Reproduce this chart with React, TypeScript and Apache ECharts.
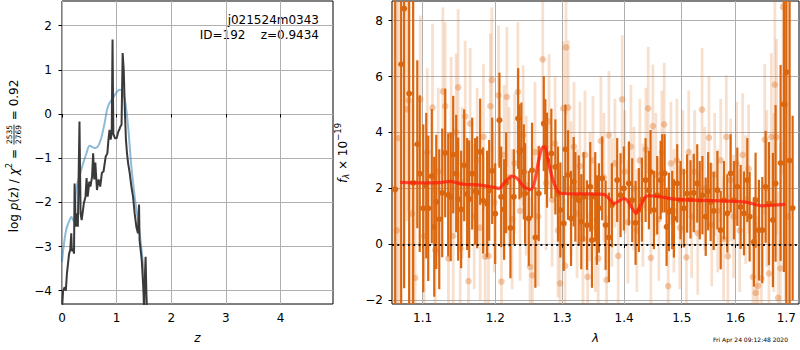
import React, { useEffect, useRef } from 'react';
import * as echarts from 'echarts';

// ---------- tick values ----------
const zTicks = [0, 1, 2, 3, 4];
const pzTicks = [-4, -3, -2, -1, 0, 1, 2];
const lamTicks = [1.1, 1.2, 1.3, 1.4, 1.5, 1.6, 1.7];
const fluxTicks = [-2, 0, 2, 4, 6, 8];

// ---------- left panel: log p(z) (black) ----------
const pzCurve = [
  [0.005, -4.32], [0.02, -4.0], [0.05, -3.92], [0.07, -4.0], [0.09, -3.61], [0.13, -3.16],
  [0.15, -3.08], [0.17, -2.7], [0.18, -3.1], [0.2, -3.05], [0.22, -3.16], [0.23, -1.57],
  [0.25, -2.55], [0.27, -2.25], [0.29, -2.55], [0.32, -0.17], [0.34, -2.25], [0.36, -2.4],
  [0.4, -2.02], [0.43, -1.87], [0.45, -1.45], [0.47, -1.87], [0.5, -1.53], [0.52, -1.64],
  [0.55, -1.42], [0.57, -0.89], [0.59, -1.48], [0.61, -1.1], [0.64, -1.72], [0.67, -1.48],
  [0.7, -1.64], [0.73, -1.33], [0.76, -1.3], [0.8, -0.96], [0.83, -0.89], [0.85, -0.58],
  [0.87, -0.36], [0.89, -0.58], [0.91, -0.43], [0.925, 1.69], [0.94, -0.45], [0.97, -0.55],
  [1.0, -0.55], [1.03, -0.4], [1.05, -0.35], [1.07, -0.28], [1.09, -0.24], [1.11, 1.38],
  [1.13, 1.0], [1.15, 0.1], [1.17, -0.58], [1.19, -0.89], [1.21, -1.11], [1.24, -1.34],
  [1.27, -1.64], [1.3, -1.87], [1.33, -2.25], [1.36, -2.55], [1.39, -2.7], [1.41, -2.05],
  [1.42, -2.86], [1.46, -3.31], [1.49, -3.99], [1.5, -4.35], [1.53, -3.23], [1.55, -4.35]
];

// ---------- left panel: chi2 curve (blue) ----------
const chiCurve = [
  [0.0, -3.35], [0.03, -3.0], [0.08, -2.6], [0.14, -2.4], [0.17, -2.33], [0.22, -2.44],
  [0.26, -1.72], [0.35, -1.27], [0.45, -0.88], [0.51, -0.72], [0.6, -0.77], [0.69, -0.65],
  [0.78, -0.2], [0.84, 0.17], [0.93, 0.36], [1.06, 0.55], [1.12, 0.48], [1.17, 0.17],
  [1.21, -0.28], [1.27, -1.19], [1.33, -1.87], [1.39, -2.4], [1.45, -3.0], [1.51, -3.76],
  [1.56, -4.36]
];

// ---------- right panel: spectrum, [lambda, flux, err] ----------
const darkPoints = [
  [1.0646, 1.97, 10], [1.0722, 6.44, 10], [1.076, 8.43, 10], [1.0825, 5.39, 9], [1.0877, 2.2, 9],
  [1.0931, 3.58, 3.0], [1.0963, 2.53, 2.8], [1.1009, 1.29, 3.0], [1.1049, 2.1, 2.6], [1.1075, 1.29, 2.6],
  [1.1122, 2.44, 2.4], [1.1155, 0.63, 2.5], [1.1182, 1.52, 2.4], [1.1222, 0.9, 2.5], [1.1262, 1.84, 2.3],
  [1.1302, 3.27, 2.3], [1.1343, 1.77, 2.2], [1.1377, 1.7, 2.3], [1.1411, 3.21, 2.1], [1.1452, 2.53, 2.1],
  [1.1479, 1.62, 2.2], [1.152, 1.25, 2.1], [1.1562, 2.83, 2.0], [1.1603, 1.8, 2.0], [1.1631, 1.62, 2.1],
  [1.1673, 2.53, 2.0], [1.1715, 1.9, 1.9], [1.1743, 1.86, 2.0], [1.1785, 3.31, 1.9], [1.1827, 1.57, 1.9],
  [1.1884, 1.45, 1.9], [1.1913, 1.93, 1.8], [1.1956, 2.63, 1.9], [1.1999, 1.1, 1.8], [1.206, 4.44, 1.7],
  [1.2085, 1.7, 1.8], [1.2128, 1.25, 1.8], [1.2157, 2.2, 1.8], [1.222, 0.59, 1.8], [1.227, 1.7, 1.7],
  [1.2333, 4.5, 1.8], [1.2352, 3.31, 1.7], [1.2381, 3.37, 1.7], [1.2417, 2.59, 1.7], [1.2436, 1.82, 1.8],
  [1.2491, 0.93, 1.7], [1.254, 2.65, 1.7], [1.259, 0.25, 1.8], [1.2641, 1.82, 1.7], [1.2717, 4.32, 1.7],
  [1.2741, 3.49, 1.7], [1.2767, 3.01, 1.7], [1.2833, 3.25, 1.6], [1.2895, 2.77, 1.7], [1.2936, 1.8, 1.7],
  [1.2972, 1.23, 1.7], [1.3025, 0.75, 1.7], [1.305, 3.4, 1.6], [1.3092, 2.48, 1.6], [1.3139, 0.93, 1.7],
  [1.3181, 2.24, 1.6], [1.3207, 1.7, 1.6], [1.3261, 1.58, 1.6], [1.3301, 0.81, 1.7], [1.3339, 1.7, 1.6],
  [1.3392, 0.69, 1.6], [1.3445, 2.06, 1.6], [1.3472, 0.15, 1.7], [1.3525, 1.7, 1.6], [1.3552, 0.87, 1.6],
  [1.3585, 1.3, 1.6], [1.3638, 2.36, 1.5], [1.3694, 0.69, 1.6], [1.3748, 0.25, 1.6], [1.3797, 1.4, 1.5],
  [1.3885, 2.3, 1.5], [1.3941, 1.76, 1.5], [1.3996, 2.0, 1.5], [1.4081, 2.18, 1.5], [1.4137, 1.58, 1.5],
  [1.4194, 0.77, 1.5], [1.425, 1.23, 1.5], [1.4302, 1.6, 1.5], [1.4365, 2.3, 1.5], [1.4422, 1.94, 1.4],
  [1.4451, 2.59, 1.5], [1.4509, 1.23, 1.4], [1.4566, 1.76, 1.4], [1.4626, 2.3, 1.4], [1.4654, 2.54, 1.4],
  [1.4696, 2.54, 1.4], [1.4731, 0.63, 1.4], [1.4771, 1.16, 1.4], [1.483, 1.23, 1.4], [1.486, 0.93, 1.4],
  [1.4919, 2.18, 1.4], [1.4978, 1.58, 1.4], [1.5038, 1.29, 1.4], [1.5097, 1.82, 1.4], [1.5158, 1.61, 1.4],
  [1.5218, 1.84, 1.4], [1.5281, 2.18, 1.4], [1.5327, 1.58, 1.4], [1.5376, 1.76, 1.4], [1.5437, 0.99, 1.4],
  [1.5482, 1.9, 1.4], [1.5529, 1.52, 1.4], [1.5585, 1.2, 1.4], [1.5654, 1.94, 1.4], [1.5716, 0.51, 1.4],
  [1.5777, 1.58, 1.4], [1.5841, 1.11, 1.4], [1.5904, 2.54, 1.4], [1.5967, 1.58, 1.4], [1.6032, 2.06, 1.4],
  [1.6096, 1.34, 1.5], [1.616, 1.11, 1.5], [1.6225, 2.3, 1.5], [1.627, 0.99, 1.6], [1.6353, 0.09, 1.6],
  [1.6386, 1.58, 1.7], [1.6451, 0.51, 1.8], [1.6518, 0.51, 1.9], [1.6584, 2.06, 2.0], [1.665, 1.46, 2.2],
  [1.6729, 0.87, 2.4], [1.6783, 2.18, 2.8], [1.6884, 2.91, 3.5], [1.6951, 5.01, 6], [1.6999, 6.16, 10],
  [1.7067, 3.0, 10], [1.7129, 1.3, 3.3]
];

const lightPoints = [
  [1.0625, 1.97, 10], [1.0665, 0.5, 10], [1.0691, 3.8, 6], [1.0797, 4.83, 4], [1.0819, 5.15, 4],
  [1.0862, 1.1, 4], [1.0902, -1.2, 3.5], [1.097, 5.18, 3], [1.1022, 0.3, 3], [1.1062, 3.3, 3],
  [1.1132, 4.89, 3], [1.1168, -0.2, 3], [1.1208, 2.6, 3], [1.1271, 5.47, 3], [1.1302, 4.94, 3],
  [1.1346, -0.5, 2.8], [1.1383, 3.9, 2.8], [1.1411, 0.3, 2.8], [1.1452, 4.02, 2.8], [1.1479, 5.61, 2.8],
  [1.1507, -0.14, 2.7], [1.1534, 2.2, 2.7], [1.1576, 4.58, 2.7], [1.1622, -1.31, 2.7], [1.1645, 4.32, 2.7],
  [1.1701, 1.0, 2.6], [1.1743, 3.0, 2.6], [1.1785, 0.6, 2.6], [1.1832, 3.84, 2.6], [1.1856, -0.44, 2.6],
  [1.1903, -0.42, 2.6], [1.193, 4.94, 2.6], [1.1951, 5.87, 2.6], [1.1985, 1.5, 2.5], [1.2046, 5.33, 2.5],
  [1.2089, -1.33, 2.5], [1.2128, 3.2, 2.5], [1.2167, 5.27, 2.5], [1.2201, 2.4, 2.5], [1.2245, 0.9, 2.5],
  [1.2282, 2.9, 2.5], [1.2329, 5.45, 2.5], [1.2362, 1.2, 2.5], [1.2407, 3.9, 2.5], [1.2452, 2.1, 2.5],
  [1.251, -0.8, 2.5], [1.2545, -1.11, 2.5], [1.2585, 3.3, 2.5], [1.2631, 1.0, 2.5], [1.2702, 6.61, 2.4],
  [1.2752, 2.2, 2.4], [1.2798, 4.4, 2.4], [1.2844, 1.6, 2.4], [1.289, 3.6, 2.4], [1.2936, 0.5, 2.4],
  [1.2967, -1.39, 2.4], [1.3018, 4.86, 2.4], [1.3045, -0.77, 2.4], [1.306, 7.04, 2.4], [1.3096, 4.89, 2.4],
  [1.3139, 2.0, 2.4], [1.3186, 3.5, 2.3], [1.3234, 1.1, 2.3], [1.328, 2.8, 2.3], [1.3328, 0.2, 2.3],
  [1.336, 3.2, 2.3], [1.3403, -1.16, 2.3], [1.344, 1.7, 2.3], [1.3488, 3.0, 2.3], [1.3528, 0.6, 2.3],
  [1.3573, -0.5, 2.3], [1.3617, 3.7, 2.3], [1.3666, 2.4, 2.3], [1.371, -1.27, 2.3], [1.3748, 3.9, 2.3],
  [1.3797, 1.5, 2.3], [1.3847, 2.9, 2.3], [1.3902, -0.41, 2.3], [1.3968, 5.18, 2.3], [1.4013, 2.6, 2.2],
  [1.4064, 0.8, 2.2], [1.4115, 3.5, 2.2], [1.4166, 2.0, 2.2], [1.4216, 0.5, 2.2], [1.4267, 3.0, 2.2],
  [1.4319, 1.4, 2.2], [1.437, 3.4, 2.2], [1.441, 4.86, 2.2], [1.4456, -0.48, 2.2], [1.4491, 4.23, 2.2],
  [1.4543, 2.5, 2.2], [1.4595, 0.9, 2.2], [1.4648, 3.3, 2.2], [1.4689, 4.29, 2.2], [1.4759, -1.49, 2.2],
  [1.4807, 2.9, 2.2], [1.486, 1.2, 2.2], [1.4913, 3.0, 2.2], [1.4965, 0.6, 2.2], [1.5019, 2.6, 2.2],
  [1.5085, -0.46, 2.2], [1.5126, 3.3, 2.2], [1.5179, 1.0, 2.2], [1.5234, 2.6, 2.2], [1.529, 0.4, 2.2],
  [1.5369, 4.82, 2.2], [1.5418, 2.0, 2.2], [1.5497, 3.82, 2.2], [1.5548, 0.7, 2.2], [1.5604, 2.5, 2.2],
  [1.566, 1.2, 2.2], [1.5716, 3.0, 2.2], [1.5771, 0.2, 2.2], [1.5822, 3.84, 2.2], [1.5852, -0.42, 2.2],
  [1.5904, 2.3, 2.2], [1.5961, 1.0, 2.2], [1.6019, 2.9, 2.2], [1.6077, 0.5, 2.2], [1.6135, 3.2, 2.2],
  [1.6193, 1.6, 2.3], [1.6251, 2.7, 2.3], [1.6335, -1.16, 2.4], [1.6388, -1.73, 2.5], [1.6432, -1.48, 2.5],
  [1.65, -1.21, 2.6], [1.6566, 3.75, 2.7], [1.6606, 2.0, 2.8], [1.665, -1.04, 3.0], [1.6698, 3.84, 3.0],
  [1.6748, 1.5, 3.2], [1.6768, 5.71, 3.4], [1.6802, 3.84, 3.5], [1.6834, -1.91, 3.8], [1.6881, -0.86, 4.5],
  [1.6932, 8.49, 6], [1.6976, 5.0, 7], [1.7025, 1.0, 10]
];

const modelCurve = [
  [1.0711, 2.22], [1.1013, 2.2], [1.1235, 2.21], [1.137, 2.25], [1.1461, 2.2], [1.1552, 2.15],
  [1.1785, 2.12], [1.1999, 2.03], [1.2051, 2.0], [1.2145, 2.24], [1.2243, 2.44], [1.2318, 2.36],
  [1.2417, 2.06], [1.2515, 1.96], [1.2566, 2.12], [1.2641, 3.01], [1.2691, 3.45], [1.2733, 3.49],
  [1.2783, 3.01], [1.2844, 2.41], [1.2921, 1.94], [1.2998, 1.82], [1.3549, 1.8], [1.3666, 1.79],
  [1.3748, 1.64], [1.383, 1.46], [1.3913, 1.55], [1.3996, 1.64], [1.4052, 1.58], [1.4137, 1.29],
  [1.4204, 1.11], [1.4279, 1.4], [1.4365, 1.7], [1.4422, 1.74], [1.4626, 1.7], [1.486, 1.62],
  [1.5218, 1.58], [1.5871, 1.55], [1.6193, 1.51], [1.6518, 1.38], [1.6718, 1.4], [1.6982, 1.43]
];

const zeroLevel = 0;
const objName = 'j021524m0343';
const objInfo = 'ID=192    z=0.9434';
const stamp = 'Fri Apr 24 09:12:48 2020';

const FONT = 'DejaVu Sans';
const ORANGE = '#da670f';

function minusFmt(v: number) {
  return v < 0 ? '\u2212' + Math.abs(v) : String(v);
}

function measure(text: string, size: number, italic = false) {
  const c = document.createElement('canvas').getContext('2d')!;
  c.font = `${italic ? 'italic ' : ''}${size}px "${FONT}"`;
  return c.measureText(text).width;
}

type Seg = { t?: string; s?: number; it?: boolean; dy?: number; frac?: [string, string] };

function buildRotatedLabel(segs: Seg[], cx: number, cy: number) {
  const children: any[] = [];
  let x = 0;
  for (const sg of segs) {
    if (sg.frac) {
      const fs = 7.5;
      const w = Math.max(measure(sg.frac[0], fs), measure(sg.frac[1], fs)) + 2;
      children.push({ type: 'text', x: x + w / 2, y: -4.2, style: { text: sg.frac[0], fontSize: fs, fontFamily: FONT, fill: '#000', align: 'center', verticalAlign: 'middle' } });
      children.push({ type: 'text', x: x + w / 2, y: 4.4, style: { text: sg.frac[1], fontSize: fs, fontFamily: FONT, fill: '#000', align: 'center', verticalAlign: 'middle' } });
      children.push({ type: 'line', shape: { x1: x + 0.5, y1: 0, x2: x + w - 0.5, y2: 0 }, style: { stroke: '#000', lineWidth: 0.8 } });
      x += w;
    } else {
      const s = sg.s || 12;
      children.push({ type: 'text', x, y: sg.dy || 0, style: { text: sg.t, fontSize: s, fontFamily: FONT, fontStyle: sg.it ? 'italic' : 'normal', fill: '#000', align: 'left', verticalAlign: 'middle' } });
      x += measure(sg.t!, s, !!sg.it);
    }
  }
  return { type: 'group', x: cx, y: cy + x / 2, rotation: Math.PI / 2, children };
}

export default function App() {
  const ref = useRef<HTMLDivElement>(null);
  useEffect(() => {
    if (!ref.current) return;
    const chart = echarts.init(ref.current, undefined, { renderer: 'svg' });

    const errRender = (barColor: string, dotColor: string, bw: number, r: number) =>
      (params: any, api: any) => {
        const x = api.value(0), y = api.value(1), e = api.value(2);
        const top = api.coord([x, y + e]);
        const bot = api.coord([x, y - e]);
        const c = api.coord([x, y]);
        return {
          type: 'group',
          children: [
            { type: 'line', shape: { x1: top[0], y1: top[1], x2: bot[0], y2: bot[1] }, style: { stroke: barColor, lineWidth: bw } },
            { type: 'circle', shape: { cx: c[0], cy: c[1], r }, style: { fill: dotColor } }
          ]
        };
      };

    const axisCommon = {
      axisLine: { show: false },
      axisTick: { show: true, length: 3.5, lineStyle: { color: '#000', width: 1 } },
      splitLine: { show: true, lineStyle: { color: '#b0b0b0', width: 1 } },
      nameTextStyle: { color: '#000', fontSize: 12, fontFamily: FONT }
    };

    const leftTitle = buildRotatedLabel([
      { t: 'log ' }, { t: 'p', it: true }, { t: '(z) / ' }, { t: '\u03c7', it: true }, { t: '2', s: 8.5, dy: -5 },
      { t: ' = ' }, { frac: ['2535', '2769'] }, { t: ' = 0.92' }
    ], 14, 156);
    const rightTitle = buildRotatedLabel([
      { t: 'f', it: true }, { t: '\u03bb', s: 8.5, it: true, dy: 3 }, { t: ' \u00d7 10' }, { t: '\u221219', s: 8.5, dy: -5 }
    ], 343, 153);

    chart.setOption({
      animation: false,
      textStyle: { fontFamily: FONT },
      grid: [
        { left: 62, top: 1, width: 271, height: 303, show: true, borderColor: '#000', borderWidth: 1, backgroundColor: 'transparent' },
        { left: 392, top: 1, width: 407, height: 303, show: true, borderColor: '#000', borderWidth: 1, backgroundColor: 'transparent' }
      ],
      xAxis: [
        {
          ...axisCommon, gridIndex: 0, type: 'value', min: 0, max: 4.96,
          axisTick: { ...axisCommon.axisTick, customValues: zTicks },
          axisLabel: { customValues: zTicks, color: '#000', fontSize: 12, margin: 8, fontFamily: FONT },
          name: 'z', nameLocation: 'middle', nameGap: 28,
          nameTextStyle: { ...axisCommon.nameTextStyle, fontStyle: 'italic' }
        },
        {
          ...axisCommon, gridIndex: 1, type: 'log', logBase: 10, min: 1.0605, max: 1.726,
          axisTick: { ...axisCommon.axisTick, customValues: lamTicks },
          axisLabel: { customValues: lamTicks, color: '#000', fontSize: 12, margin: 8, fontFamily: FONT, formatter: (v: number) => v.toFixed(1) },
          name: '\u03bb', nameLocation: 'middle', nameGap: 28,
          nameTextStyle: { ...axisCommon.nameTextStyle, fontStyle: 'italic' }
        }
      ],
      yAxis: [
        {
          ...axisCommon, gridIndex: 0, type: 'value', min: -4.3, max: 2.56,
          axisTick: { ...axisCommon.axisTick, customValues: pzTicks },
          axisLabel: { customValues: pzTicks, color: '#000', fontSize: 12, margin: 10, fontFamily: FONT, formatter: minusFmt }
        },
        {
          ...axisCommon, gridIndex: 1, type: 'value', min: -2.13, max: 8.7,
          axisTick: { ...axisCommon.axisTick, customValues: fluxTicks },
          axisLabel: { customValues: fluxTicks, color: '#000', fontSize: 12, margin: 9, fontFamily: FONT, formatter: minusFmt }
        }
      ],
      series: [
        {
          type: 'line', xAxisIndex: 0, yAxisIndex: 0, data: pzCurve, showSymbol: false, symbol: 'none',
          lineStyle: { color: '#3a3a3a', width: 2 }, z: 3
        },
        {
          type: 'line', xAxisIndex: 0, yAxisIndex: 0, data: chiCurve, showSymbol: false, symbol: 'none', smooth: 0.4,
          lineStyle: { color: '#1f77b4', opacity: 0.5, width: 2 }, z: 2
        },
        {
          type: 'custom', xAxisIndex: 1, yAxisIndex: 1, data: lightPoints, clip: true, z: 2,
          encode: { x: 0, y: 1 },
          renderItem: errRender('rgba(222,110,30,0.21)', 'rgba(222,110,30,0.36)', 2.8, 3.3)
        },
        {
          type: 'custom', xAxisIndex: 1, yAxisIndex: 1, data: darkPoints, clip: true, z: 3,
          encode: { x: 0, y: 1 },
          renderItem: errRender(ORANGE, ORANGE, 2.2, 3)
        },
        {
          type: 'line', xAxisIndex: 1, yAxisIndex: 1, data: modelCurve, showSymbol: false, symbol: 'none', smooth: 0.3,
          lineStyle: { color: '#ff1a0a', opacity: 0.75, width: 3.2 }, z: 4,
          markLine: {
            silent: true, symbol: ['none', 'none'], label: { show: false },
            lineStyle: { color: '#111', type: [2, 3.3], width: 2 },
            data: [{ yAxis: zeroLevel }]
          }
        }
      ],
      graphic: [
        { type: 'text', x: 319, y: 20, style: { text: objName, fontSize: 12, fontFamily: FONT, fill: '#000', align: 'right', verticalAlign: 'middle' } },
        { type: 'text', x: 319, y: 35, style: { text: objInfo, fontSize: 12, fontFamily: FONT, fill: '#000', align: 'right', verticalAlign: 'middle' } },
        { type: 'text', x: 788, y: 339, style: { text: stamp, fontSize: 6, fontFamily: FONT, fill: '#000', align: 'right', verticalAlign: 'middle' } },
        leftTitle,
        rightTitle
      ]
    });
    return () => chart.dispose();
  }, []);
  return <div ref={ref} style={{ position: 'fixed', left: 0, top: 0, width: 800, height: 350, background: '#fff' }} />;
}
